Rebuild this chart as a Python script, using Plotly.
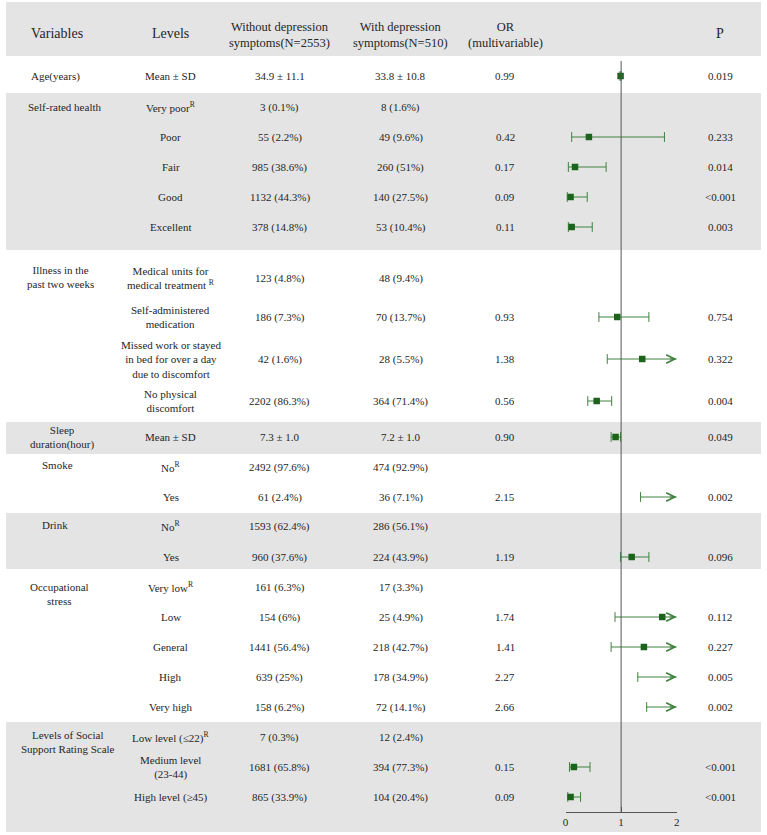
import plotly.graph_objects as go

W, H = 767, 835

# ---- data ----
variables = ["Age(years)", "Self-rated health", "Illness in the<br>past two weeks",
             "Sleep<br>duration(hour)", "Smoke", "Drink", "Occupational<br>stress",
             "Levels of Social<br>Support Rating Scale"]

levels = ["Mean ± SD",
          "Very poor<sup>R</sup>", "Poor", "Fair", "Good", "Excellent",
          "Medical units for<br>medical treatment <sup>R</sup>", "Self-administered<br>medication",
          "Missed work or stayed<br>in bed for over a day<br>due to discomfort", "No physical<br>discomfort",
          "Mean ± SD",
          "No<sup>R</sup>", "Yes",
          "No<sup>R</sup>", "Yes",
          "Very low<sup>R</sup>", "Low", "General", "High", "Very high",
          "Low level (≤22)<sup>R</sup>", "Medium level<br>(23-44)", "High level (≥45)"]

without_dep = ["34.9 ± 11.1", "3 (0.1%)", "55 (2.2%)", "985 (38.6%)", "1132 (44.3%)", "378 (14.8%)",
               "123 (4.8%)", "186 (7.3%)", "42 (1.6%)", "2202 (86.3%)", "7.3 ± 1.0",
               "2492 (97.6%)", "61 (2.4%)", "1593 (62.4%)", "960 (37.6%)",
               "161 (6.3%)", "154 (6%)", "1441 (56.4%)", "639 (25%)", "158 (6.2%)",
               "7 (0.3%)", "1681 (65.8%)", "865 (33.9%)"]

with_dep = ["33.8 ± 10.8", "8 (1.6%)", "49 (9.6%)", "260 (51%)", "140 (27.5%)", "53 (10.4%)",
            "48 (9.4%)", "70 (13.7%)", "28 (5.5%)", "364 (71.4%)", "7.2 ± 1.0",
            "474 (92.9%)", "36 (7.1%)", "286 (56.1%)", "224 (43.9%)",
            "17 (3.3%)", "25 (4.9%)", "218 (42.7%)", "178 (34.9%)", "72 (14.1%)",
            "12 (2.4%)", "394 (77.3%)", "104 (20.4%)"]

or_est = [0.99, None, 0.42, 0.17, 0.09, 0.11, None, 0.93, 1.38, 0.56, 0.90,
          None, 2.15, None, 1.19, None, 1.74, 1.41, 2.27, 2.66, None, 0.15, 0.09]
ci_lo = [0.98, None, 0.11, 0.05, 0.03, 0.05, None, 0.60, 0.75, 0.40, 0.82,
         None, 1.35, None, 0.99, None, 0.89, 0.82, 1.30, 1.46, None, 0.07, 0.04]
ci_hi = [1.00, None, 1.78, 0.73, 0.39, 0.48, None, 1.50, 2.55, 0.83, 0.99,
         None, 3.42, None, 1.50, None, 3.40, 2.42, 3.95, 4.85, None, 0.44, 0.27]

p_text = ["0.019", "", "0.233", "0.014", "<0.001", "0.003", "", "0.754", "0.322", "0.004", "0.049",
          "", "0.002", "", "0.096", "", "0.112", "0.227", "0.005", "0.002", "", "<0.001", "<0.001"]

axis_max = 2

# ---- layout positions (pixels from top) ----
row_y = [76, 107, 137, 167, 197, 227, 278, 317, 359, 401, 437, 467, 497,
         526, 557, 587, 617, 647, 677, 707, 737, 767, 797]
var_y = [76, 107, 277, 437, 465, 525, 594, 742]
var_x = [53, 62, 58, 59, 55, 52, 57, 66]
bands = [(2, 56, True), (56, 93, False), (93, 250, True), (250, 422, False), (422, 454, True),
         (454, 513, False), (513, 569, True), (569, 722, False), (722, 832, True)]
col_x = {"lev": 169, "wo": 279, "wi": 401, "or": 506, "p": 723}

GRAY = "#e4e4e4"
TXT = "#262626"
SQ = "#1c641c"
LN = "#3e823e"
FONT = "Liberation Serif, Times New Roman, serif"

fig = go.Figure()

shapes = []
for y0, y1, gray in bands:
    if gray:
        shapes.append(dict(type="rect", xref="paper", yref="y", x0=3 / W, x1=764 / W,
                           y0=y0, y1=y1, fillcolor=GRAY, line_width=0, layer="below"))
shapes.append(dict(type="line", xref="x", yref="y", x0=1, x1=1, y0=61, y1=812,
                   line=dict(color="#555555", width=1)))

annotations = []


def txt(x, y, s, size=11):
    annotations.append(dict(x=x / W, y=y, xref="paper", yref="y", text=s, showarrow=False,
                            xanchor="center", yanchor="middle",
                            font=dict(family=FONT, size=size, color=TXT)))


# header
txt(54, 33, "Variables", 14)
txt(col_x["lev"], 33, "Levels", 14)
txt(col_x["wo"], 35, "Without depression<br>symptoms(N=2553)", 12.5)
txt(col_x["wi"], 35, "With depression<br>symptoms(N=510)", 12.5)
txt(col_x["or"], 35, "OR<br>(multivariable)", 12.5)
txt(col_x["p"], 33, "P", 14)

for v, vx, vy in zip(variables, var_x, var_y):
    txt(vx, vy, v)

for i, y in enumerate(row_y):
    txt(col_x["lev"], y, levels[i])
    txt(col_x["wo"], y, without_dep[i])
    txt(col_x["wi"], y, with_dep[i])
    if or_est[i] is not None:
        txt(col_x["or"], y, f"{or_est[i]:.2f}")
    if p_text[i]:
        txt(col_x["p"], y, p_text[i])

# forest plot marks
line_x, line_y, cap_x, cap_y, sq_x, sq_y = [], [], [], [], [], []
for est, lo, hi, y in zip(or_est, ci_lo, ci_hi, row_y):
    if est is None:
        continue
    line_x += [lo, min(hi, axis_max), None]
    line_y += [y, y, None]
    cap_x.append(lo)
    cap_y.append(y)
    if hi <= axis_max:
        cap_x.append(hi)
        cap_y.append(y)
    else:
        annotations.append(dict(x=axis_max, y=y, ax=axis_max - 0.15, ay=y, xref="x", yref="y",
                                axref="x", ayref="y", text="", showarrow=True, arrowhead=5,
                                arrowsize=1.7, arrowwidth=1, arrowcolor=LN))
    if est <= axis_max:
        sq_x.append(est)
        sq_y.append(y)

fig.add_trace(go.Scatter(x=line_x, y=line_y, mode="lines", line=dict(color=LN, width=1),
                         hoverinfo="skip", cliponaxis=False))
fig.add_trace(go.Scatter(x=cap_x, y=cap_y, mode="markers", cliponaxis=False, hoverinfo="skip",
                         marker=dict(symbol="line-ns", size=7, line=dict(color=LN, width=1))))
fig.add_trace(go.Scatter(x=sq_x, y=sq_y, mode="markers", cliponaxis=False,
                         marker=dict(symbol="square", size=6.5, color=SQ)))

fig.update_layout(
    width=W, height=H, margin=dict(l=0, r=0, t=0, b=0),
    paper_bgcolor="white", plot_bgcolor="rgba(0,0,0,0)",
    showlegend=False, shapes=shapes, annotations=annotations,
    xaxis=dict(domain=[567 / W, 679 / W], range=[0, axis_max], anchor="free",
               position=1 - 812 / H, showline=True, linecolor="#555555", linewidth=1,
               ticks="inside", ticklen=5, tickcolor="#555555", tickvals=[0, 1, 2],
               showgrid=False, zeroline=False,
               tickfont=dict(family=FONT, size=11, color=TXT)),
    yaxis=dict(domain=[0, 1], range=[H, 0], visible=False, showgrid=False, zeroline=False),
)

# page body has a default margin; drop it so the figure fills the window
fig.write_html("out.html", config={"displayModeBar": False},
               post_script="document.body.style.margin='0px';")
